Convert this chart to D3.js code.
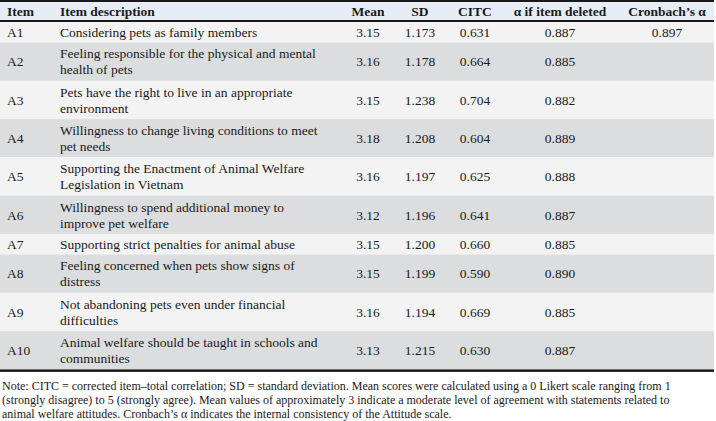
<!DOCTYPE html>
<html>
<head>
<meta charset="utf-8">
<script src="https://cdn.jsdelivr.net/npm/d3@7"></script>
<style>
  body { margin: 0; background: #fff; }
  svg { display: block; font-family: "Liberation Serif", "Times New Roman", serif; }
</style>
</head>
<body>
<div id="table-chart"></div>
<script>
// Table values
const items = ["A1", "A2", "A3", "A4", "A5", "A6", "A7", "A8", "A9", "A10"];
const descriptions = [
  "Considering pets as family members",
  "Feeling responsible for the physical and mental\nhealth of pets",
  "Pets have the right to live in an appropriate\nenvironment",
  "Willingness to change living conditions to meet\npet needs",
  "Supporting the Enactment of Animal Welfare\nLegislation in Vietnam",
  "Willingness to spend additional money to\nimprove pet welfare",
  "Supporting strict penalties for animal abuse",
  "Feeling concerned when pets show signs of\ndistress",
  "Not abandoning pets even under financial\ndifficulties",
  "Animal welfare should be taught in schools and\ncommunities",
];
const means = ["3.15", "3.16", "3.15", "3.18", "3.16", "3.12", "3.15", "3.15", "3.16", "3.13"];
const sds = ["1.173", "1.178", "1.238", "1.208", "1.197", "1.196", "1.200", "1.199", "1.194", "1.215"];
const citc = ["0.631", "0.664", "0.704", "0.604", "0.625", "0.641", "0.660", "0.590", "0.669", "0.630"];
const alphaDeleted = ["0.887", "0.885", "0.882", "0.889", "0.888", "0.887", "0.885", "0.890", "0.885", "0.887"];
const cronbach = ["0.897", "", "", "", "", "", "", "", "", ""];
const headers = ["Item", "Item description", "Mean", "SD", "CITC", "\u03b1 if item deleted", "Cronbach\u2019s \u03b1"];
const noteLines = [
  "Note: CITC = corrected item\u2013total correlation; SD = standard deviation. Mean scores were calculated using a 0 Likert scale ranging from 1",
  "(strongly disagree) to 5 (strongly agree). Mean values of approximately 3 indicate a moderate level of agreement with statements related to",
  "animal welfare attitudes. Cronbach\u2019s \u03b1 indicates the internal consistency of the Attitude scale.",
];

const width = 716, height = 421;
const tableWidth = 714;
const headerH = 21;
const lineH = 16;
const singleH = 20.5, doubleH = 38.3;

const rows = items.map((item, i) => ({
  item,
  lines: descriptions[i].split("\n"),
  values: [means[i], sds[i], citc[i], alphaDeleted[i], cronbach[i]],
}));

// cumulative row positions
let acc = headerH + 1;
rows.forEach((r) => {
  r.h = r.lines.length > 1 ? doubleH : singleH;
  r.y0 = acc;
  acc += r.h;
});
const tableBottom = acc;

const y = d3.scaleOrdinal().domain(items).range(rows.map((r) => r.y0));

const colKeys = ["item", "desc", "mean", "sd", "citc", "alpha", "cron"];
const x = d3.scaleOrdinal().domain(colKeys).range([7, 60, 368, 420, 475, 560, 667]);
const anchor = (k) => (k === "item" || k === "desc" ? "start" : "middle");

const svg = d3
  .select("#table-chart")
  .append("svg")
  .attr("width", width)
  .attr("height", height);

// header background
svg.append("rect")
  .attr("x", 0).attr("y", 0)
  .attr("width", tableWidth).attr("height", headerH)
  .attr("fill", "#e6edf6");

// row backgrounds
const rowG = svg.selectAll(".row")
  .data(rows)
  .enter()
  .append("g")
  .attr("class", "row")
  .attr("transform", (d) => `translate(0,${y(d.item)})`);

rowG.append("rect")
  .attr("width", tableWidth)
  .attr("height", (d) => d.h)
  .attr("fill", (d, i) => (i % 2 === 0 ? "#f3f3f3" : "#dcdddf"));

// item labels
rowG.append("text")
  .attr("x", x("item"))
  .attr("y", (d) => d.h / 2)
  .attr("dy", "0.35em")
  .attr("font-size", 13.5)
  .attr("fill", "#1a1a1a")
  .text((d) => d.item);

// descriptions
rowG.append("text")
  .attr("x", x("desc"))
  .attr("font-size", 13.5)
  .attr("fill", "#1a1a1a")
  .each(function (d) {
    const t = d3.select(this);
    const n = d.lines.length;
    d.lines.forEach((line, j) => {
      t.append("tspan")
        .attr("x", x("desc"))
        .attr("y", d.h / 2 + (j - (n - 1) / 2) * lineH)
        .attr("dy", "0.35em")
        .text(line);
    });
  });

// numeric cells
rowG.selectAll(".val")
  .data((d) => d.values.map((v, j) => ({ v, k: colKeys[j + 2], h: d.h })))
  .enter()
  .append("text")
  .attr("class", "val")
  .attr("x", (d) => x(d.k))
  .attr("y", (d) => d.h / 2)
  .attr("dy", "0.35em")
  .attr("text-anchor", "middle")
  .attr("font-size", 13.5)
  .attr("fill", "#1a1a1a")
  .text((d) => d.v);

// header labels
svg.selectAll(".hdr")
  .data(headers)
  .enter()
  .append("text")
  .attr("class", "hdr")
  .attr("x", (d, i) => x(colKeys[i]))
  .attr("y", headerH / 2 + 1)
  .attr("dy", "0.35em")
  .attr("text-anchor", (d, i) => anchor(colKeys[i]))
  .attr("font-size", 13.5)
  .attr("font-weight", "bold")
  .attr("fill", "#1a1a1a")
  .text((d) => d);

// rules
svg.append("rect").attr("x", 0).attr("y", 0).attr("width", tableWidth).attr("height", 2).attr("fill", "#1a1a1a");
svg.append("rect").attr("x", 0).attr("y", headerH - 1).attr("width", tableWidth).attr("height", 2).attr("fill", "#1a1a1a");
svg.append("rect").attr("x", 0).attr("y", tableBottom).attr("width", tableWidth).attr("height", 2.5).attr("fill", "#1a1a1a");

// note
svg.append("text")
  .attr("font-size", 12)
  .attr("fill", "#1a1a1a")
  .selectAll("tspan")
  .data(noteLines)
  .enter()
  .append("tspan")
  .attr("x", 2)
  .attr("y", (d, i) => tableBottom + 21 + i * 14)
  .text((d) => d);
</script>
</body>
</html>
